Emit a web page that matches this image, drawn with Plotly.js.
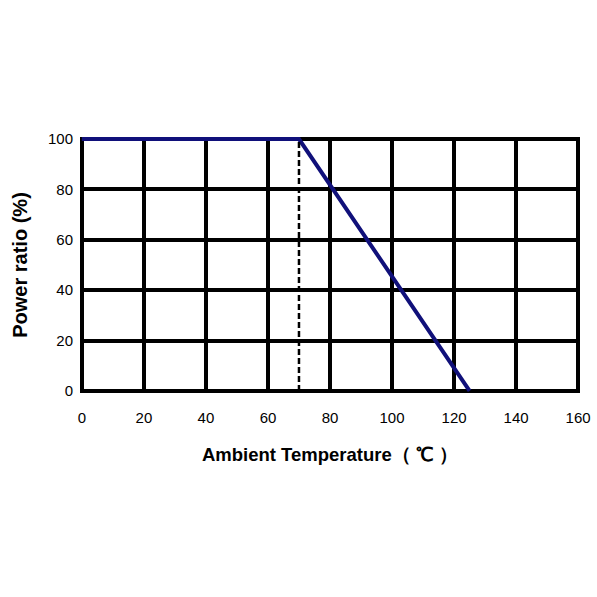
<!DOCTYPE html>
<html>
<head>
<meta charset="utf-8">
<script src="https://cdn.plot.ly/plotly-3.0.1.min.js"></script>
<style>
  body { margin: 0; background: #fff; }
  #chart { width: 597px; height: 597px; }
</style>
</head>
<body>
<div id="chart"></div>
<script>
// derating curve: full power up to 70C, then straight down to zero at 125C
var tempPoints = [0, 70, 125];
var ratioPoints = [100, 100, 0];

// dashed marker at the knee
var kneeX = [70, 70];
var kneeY = [0, 100];

var xTicks = [0, 20, 40, 60, 80, 100, 120, 140, 160];
var yTicks = [0, 20, 40, 60, 80, 100];

var curve = {
  x: tempPoints,
  y: ratioPoints,
  mode: 'lines',
  line: { color: '#10107a', width: 4 },
  hoverinfo: 'skip'
};

var knee = {
  x: kneeX,
  y: kneeY,
  mode: 'lines',
  line: { color: '#000', width: 2.5, dash: '6px,3px' },
  hoverinfo: 'skip'
};

var layout = {
  width: 597,
  height: 597,
  showlegend: false,
  paper_bgcolor: '#fff',
  plot_bgcolor: '#fff',
  margin: { l: 80, r: 17, t: 137, b: 204 },
  font: { family: 'Liberation Sans, Arial, sans-serif', size: 15, color: '#000' },
  xaxis: {
    range: [-0.6, 160.6],
    tickvals: xTicks,
    ticktext: xTicks.map(String),
    showgrid: true,
    gridcolor: '#000',
    gridwidth: 4,
    zeroline: true,
    zerolinecolor: '#000',
    zerolinewidth: 4,
    showline: false,
    ticks: '',
    ticklabelstandoff: 14,
    fixedrange: true,
    title: {
      text: 'Ambient Temperature（ ℃ ）',
      font: { size: 18.5, weight: 'bold' },
      standoff: 23
    }
  },
  yaxis: {
    range: [-0.8, 100.8],
    tickvals: yTicks,
    ticktext: yTicks.map(String),
    showgrid: true,
    gridcolor: '#000',
    gridwidth: 4,
    zeroline: true,
    zerolinecolor: '#000',
    zerolinewidth: 4,
    showline: false,
    ticks: '',
    ticklabelstandoff: 6,
    fixedrange: true,
    title: {
      text: 'Power ratio (%)',
      font: { size: 20, weight: 'bold' },
      standoff: 14
    }
  }
};

Plotly.newPlot('chart', [curve, knee], layout, { displayModeBar: false, staticPlot: true });
</script>
</body>
</html>
